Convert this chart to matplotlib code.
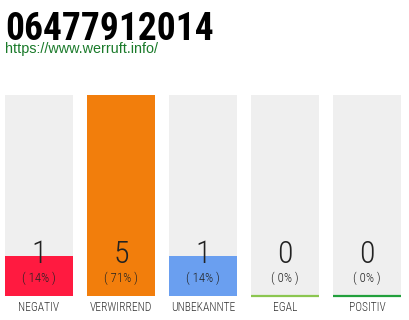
import matplotlib
matplotlib.use("Agg")
import matplotlib.pyplot as plt
from matplotlib import font_manager

# ---- data ----
title_text = "06477912014"
url_text = "https://www.werruft.info/"
categories = ["NEGATIV", "VERWIRREND", "UNBEKANNTE", "EGAL", "POSITIV"]
counts = [1, 5, 1, 0, 0]
percents = [14, 71, 14, 0, 0]
colors = ["#ff1a40", "#f27e0c", "#6a9ff0", "#8bc650", "#22a03c"]

# ---- fonts ----
available = {f.name for f in font_manager.fontManager.ttflist}
def pick(cands):
    for c in cands:
        if c in available:
            return c
    return "DejaVu Sans"
cond = pick(["Roboto Condensed", "Liberation Sans Narrow", "Open Sans Condensed", "DejaVu Sans"])
body = pick(["Liberation Sans", "Arial", "DejaVu Sans"])

W, H = 410, 320
fig = plt.figure(figsize=(W / 100, H / 100), dpi=100)
fig.patch.set_facecolor("white")

# axes spanning the bar area (pixels: x 5..401, y 95..296)
left, right, top, bottom = 5, 401, 95, 296
ax = fig.add_axes([left / W, (H - bottom) / H, (right - left) / W, (bottom - top) / H])
n = len(categories)
spacing_px = (right - left + 14) / n  # 82 px
bar_w = 68 / spacing_px
ymax = max(counts)
xs = list(range(n))

ax.bar(xs, [ymax] * n, width=bar_w, color="#efefef", zorder=1)
ax.bar(xs, counts, width=bar_w, color=colors, zorder=2)
for x, c, col in zip(xs, counts, colors):
    if c == 0:
        ax.plot([x - bar_w / 2, x + bar_w / 2], [0, 0], color=col, lw=1.6,
                solid_capstyle="butt", zorder=3, clip_on=False)

ax.set_xlim(-bar_w / 2, n - 1 + bar_w / 2)
ax.set_ylim(0, ymax)
for s in ax.spines.values():
    s.set_visible(False)
ax.set_yticks([])
ax.set_xticks(xs)
ax.set_xticklabels(categories, fontfamily=cond, fontsize=8.3, fontweight="light",
                   color="#333333")
ax.tick_params(axis="x", length=0, pad=3.3)

tr = ax.get_xaxis_transform()
for x, c, p in zip(xs, counts, percents):
    ax.text(x, (bottom - 263) / (bottom - top), str(c), transform=tr, ha="center",
            va="baseline", fontfamily=cond, fontsize=23, fontweight="light",
            color="#222222", zorder=4)
    ax.text(x, (bottom - 278) / (bottom - top), f"( {p}% )", transform=tr, ha="center",
            va="center", fontfamily=cond, fontsize=9.2, fontweight="light",
            color="#222222", zorder=4)

fig.text(5 / W, (H - 40) / H, title_text, fontfamily=cond, fontweight="heavy",
         fontsize=27, color="#000000", va="baseline", ha="left")
fig.text(5 / W, (H - 53) / H, url_text, fontfamily=body, fontsize=10.4,
         color="#1a7a2a", va="baseline", ha="left")

fig.savefig("out.png", dpi=100)
